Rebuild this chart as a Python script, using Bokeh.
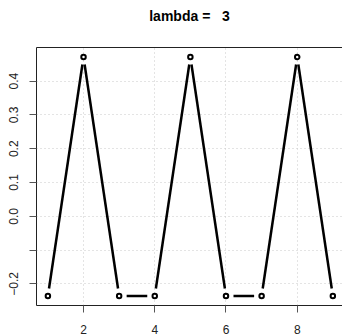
import numpy as np
from bokeh.plotting import figure
from bokeh.models import FixedTicker, LinearAxis, Range1d
from bokeh.embed import file_html
from bokeh.resources import INLINE

# ---- data ----
x_vals = [1, 2, 3, 4, 5, 6, 7, 8, 9]
y_vals = [-0.2357, 0.4714, -0.2357, -0.2357, 0.4714, -0.2357, -0.2357, 0.4714, -0.2357]
x_ticks = [2, 4, 6, 8]
y_ticks = [-0.2, -0.1, 0.0, 0.1, 0.2, 0.3, 0.4]
y_tick_labels = ["\u22120.2", "", "0.0", "0.1", "0.2", "0.3", "0.4"]
title_text = "lambda =\u00a0\u00a0 3"

W, H = 342, 336
ML, MT, MB, MR = 36, 47, 31, 0
x0, x1 = 0.68, 9.271
y0, y1 = -0.264, 0.4997

p = figure(width=W, height=H, output_backend="svg", toolbar_location=None,
           x_range=Range1d(x0, x1), y_range=Range1d(y0, y1),
           min_border_left=ML, min_border_top=MT, min_border_bottom=MB,
           min_border_right=MR, outline_line_color=None)

FONT = "Liberation Sans"

# title
p.title.text = title_text
p.title.text_font = FONT
p.title.text_font_size = "14px"
p.title.text_font_style = "bold"
p.title.text_color = "black"
p.title.align = "center"
p.title.standoff = 0

# axes
for ax in p.xaxis + p.yaxis:
    ax.major_tick_in = 0
    ax.major_tick_out = 7
    ax.minor_tick_out = 0
    ax.minor_tick_in = 0
    ax.major_tick_line_color = "#555555"
    ax.axis_line_color = "#222222"
    ax.major_label_text_font = FONT
    ax.major_label_text_font_size = "12px"
    ax.major_label_text_color = "#222222"
    ax.major_label_text_line_height = 1.0

p.xaxis.ticker = FixedTicker(ticks=x_ticks)
p.xaxis.major_label_standoff = 12
p.yaxis.ticker = FixedTicker(ticks=y_ticks)
p.yaxis.major_label_overrides = {t: l for t, l in zip(y_ticks, y_tick_labels)}
p.yaxis.major_label_orientation = "vertical"
p.yaxis.major_label_standoff = 11

# top border line; one practically invisible tick only reserves space under the title
spacer_tick = [x_vals[0]]
top_axis = LinearAxis(ticker=FixedTicker(ticks=spacer_tick), major_tick_out=24, major_tick_in=0,
                      minor_tick_out=0, minor_tick_in=0, axis_line_color="#222222",
                      major_tick_line_color="white", major_tick_line_alpha=0.01,
                      major_label_standoff=0,
                      major_label_overrides={spacer_tick[0]: ""},
                      major_label_text_font_size="1px")
p.add_layout(top_axis, "above")

# grid
p.xgrid.ticker = FixedTicker(ticks=x_ticks)
p.ygrid.ticker = FixedTicker(ticks=y_ticks)
for g in p.xgrid + p.ygrid:
    g.grid_line_color = "#c8c8c8"
    g.grid_line_dash = "1 3"
    g.grid_line_width = 1

# connecting segments with gaps near points (type = "b")
fw = W - ML - MR
fh = H - MT - MB
sx = fw / (x1 - x0)
sy = fh / (y1 - y0)
gap = 7.5
xs = np.array(x_vals, float)
ys = np.array(y_vals, float)
dxp = np.diff(xs) * sx
dyp = np.diff(ys) * sy
L = np.hypot(dxp, dyp)
f = gap / L
sx0 = xs[:-1] + np.diff(xs) * f
sy0 = ys[:-1] + np.diff(ys) * f
sx1 = xs[1:] - np.diff(xs) * f
sy1 = ys[1:] - np.diff(ys) * f
p.segment(sx0, sy0, sx1, sy1, line_color="black", line_width=2.5)

p.scatter(x_vals, y_vals, size=4.5, line_width=2, line_color="black", fill_color="white")

open("out.html", "w").write(file_html(p, INLINE))
